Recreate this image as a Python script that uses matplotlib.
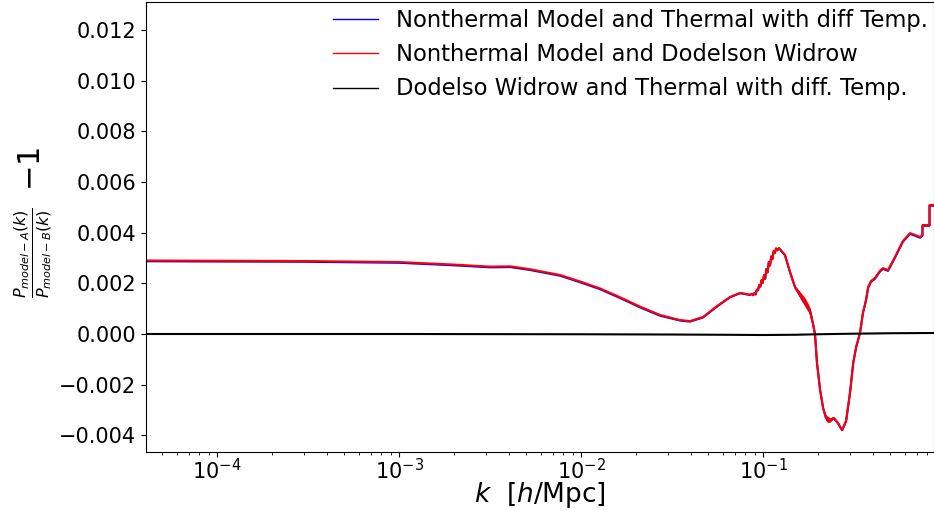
import numpy as np
import matplotlib
matplotlib.use("Agg")
import matplotlib.pyplot as plt

# Wavenumbers [h/Mpc] and relative differences P_A/P_B - 1 (smooth part)
k_smooth = [4.07e-5, 1e-4, 3e-4, 1e-3, 2e-3, 3.16e-3, 4.1e-3, 5.2e-3, 7.67e-3,
            0.01, 0.0127, 0.0164, 0.0211, 0.0272, 0.035, 0.0397, 0.0468,
            0.0558, 0.0659, 0.0748, 0.0849,
            0.1224, 0.132, 0.1407, 0.150, 0.1597, 0.170, 0.181, 0.188, 0.193,
            0.198, 0.206, 0.214, 0.222, 0.233, 0.245, 0.258, 0.272, 0.286,
            0.301, 0.313, 0.325, 0.341, 0.354, 0.368, 0.378, 0.392, 0.412,
            0.439, 0.456, 0.486, 0.531, 0.587, 0.642, 0.684, 0.729, 0.752,
            0.752, 0.822, 0.822, 0.870]

nt_dw_smooth = [0.00290, 0.00289, 0.00288, 0.00284, 0.00274, 0.00266, 0.00267,
                0.00256, 0.00233, 0.00206, 0.00180, 0.00145, 0.00108, 0.00075,
                0.00055, 0.00051, 0.00067, 0.00110, 0.00146, 0.00162, 0.00155,
                0.00339, 0.00312, 0.00245, 0.00185, 0.00154, 0.00126, 0.00091,
                0.00043, 0.00000, -0.00114, -0.00221, -0.00292, -0.00331,
                -0.00339, -0.00331, -0.00351, -0.00379, -0.00343, -0.00229,
                -0.00114, -0.00051, 0.00004, 0.00083, 0.00134, 0.00185,
                0.00209, 0.00221, 0.00249, 0.00260, 0.00252, 0.00304, 0.00367,
                0.00398, 0.00391, 0.00383, 0.00391, 0.00430, 0.00430, 0.00509,
                0.00509]

nt_th_smooth = [0.00287, 0.00286, 0.00285, 0.00281, 0.00271, 0.00263, 0.00264,
                0.00253, 0.00230, 0.00203, 0.00177, 0.00142, 0.00105, 0.00072,
                0.00053, 0.00049, 0.00065, 0.00108, 0.00145, 0.00161, 0.00154,
                0.00338, 0.00311, 0.00244, 0.00184, 0.00153, 0.00125, 0.00090,
                0.00042, -0.00001, -0.00115, -0.00222, -0.00293, -0.00332,
                -0.00340, -0.00332, -0.00352, -0.00380, -0.00344, -0.00230,
                -0.00115, -0.00052, 0.00003, 0.00082, 0.00132, 0.00182,
                0.00206, 0.00218, 0.00246, 0.00257, 0.00249, 0.00301, 0.00364,
                0.00395, 0.00388, 0.00380, 0.00388, 0.00427, 0.00427, 0.00506,
                0.00506]

# Oscillatory stretch before the first peak
k_wiggle = [0.0870, 0.0884, 0.0897, 0.0911, 0.0924, 0.0939, 0.0953, 0.0968,
            0.0982, 0.0997, 0.1013, 0.1028, 0.1044, 0.1060, 0.1076, 0.1093,
            0.1110, 0.1126, 0.1144, 0.1161, 0.1179, 0.1197]
nt_dw_wiggle = [0.00159, 0.00154, 0.00162, 0.00157, 0.00175, 0.00173, 0.00194,
                0.00188, 0.00213, 0.00203, 0.00233, 0.00219, 0.00257, 0.00244,
                0.00284, 0.00271, 0.00307, 0.00296, 0.00328, 0.00320, 0.00338,
                0.00331]
nt_th_wiggle = [0.00158, 0.00153, 0.00161, 0.00156, 0.00174, 0.00172, 0.00193,
                0.00187, 0.00212, 0.00202, 0.00232, 0.00218, 0.00256, 0.00243,
                0.00283, 0.00270, 0.00306, 0.00295, 0.00327, 0.00319, 0.00337,
                0.00330]

# Envelopes of the rapidly oscillating bands
k_band1 = [0.150, 0.156, 0.163, 0.170, 0.176, 0.181, 0.185]
band1_hi = [0.00187, 0.00173, 0.00156, 0.00139, 0.00119, 0.00099, 0.00066]
band1_lo = [0.00183, 0.00159, 0.00134, 0.00113, 0.00095, 0.00083, 0.00062]
k_band2 = [0.218, 0.222, 0.227, 0.233, 0.240]
band2_hi = [-0.00313, -0.00323, -0.00327, -0.00332, -0.00332]
band2_lo = [-0.00317, -0.00339, -0.00347, -0.00346, -0.00336]

# Dodelson-Widrow vs thermal
k_dw_th = [4.07e-5, 1e-3, 0.01, 0.03, 0.06, 0.1, 0.15, 0.2, 0.3, 0.5, 0.87]
dw_th = [0.0, 0.0, -0.00001, -0.00002, -0.00003, -0.00004, -0.00003,
         -0.00001, 0.00001, 0.00003, 0.00004]

labels = ["Nonthermal Model and Thermal with diff Temp.",
          "Nonthermal Model and Dodelson Widrow",
          "Dodelso Widrow and Thermal with diff. Temp."]
y_ticks = [-0.004, -0.002, 0.000, 0.002, 0.004, 0.006, 0.008, 0.010, 0.012]


def merged(k_a, v_a, k_b, v_b):
    """Join two (k, value) pieces into one curve sorted by k."""
    k = np.concatenate([k_a, k_b])
    v = np.concatenate([v_a, v_b])
    order = np.argsort(k, kind="stable")
    return k[order], v[order]


k_blue, v_blue = merged(k_smooth, nt_th_smooth, k_wiggle, nt_th_wiggle)
k_red, v_red = merged(k_smooth, nt_dw_smooth, k_wiggle, nt_dw_wiggle)

fig = plt.figure(figsize=(9.34, 5.11), dpi=100)
ax = fig.add_axes([0.1563, 0.1155, 0.8437, 0.8806])

lw = 1.5
ax.plot(k_blue, v_blue, color="blue", lw=lw, label=labels[0])
ax.plot(k_red, v_red, color="red", lw=lw, label=labels[1])
ax.fill_between(k_band1, band1_lo, band1_hi, color="red", lw=0.8)
ax.fill_between(k_band2, band2_lo, band2_hi, color="red", lw=0.8)
ax.plot(k_dw_th, dw_th, color="black", lw=lw, label=labels[2])

ax.set_xscale("log")
ax.set_xlim(4.07e-5, 0.870)
ax.set_ylim(-0.004655, 0.0131)
ax.set_yticks(y_ticks)
ax.set_yticklabels([f"{v:.3f}".replace("-", "\u2212") for v in y_ticks])
ax.tick_params(labelsize=15)
ax.tick_params(axis="x", which="major", pad=0.5)

ax.set_xlabel(r"$k$  [$h$/Mpc]", fontsize=19)
ax.xaxis.set_label_coords(0.5, -0.063)

# ratio part of the y label, with the "-1" drawn at full size next to it
ax.set_ylabel(r"$\frac{P_{model-A}(k)}{P_{model-B}(k)}$", fontsize=16.5)
ax.yaxis.set_label_coords(-0.117, 0.443)
fig.text(31 / 934, 1 - 191 / 511, r"$-1$", rotation=90, fontsize=22,
         ha="center", va="bottom")

for line in ax.legend(loc="upper right", frameon=False, fontsize=16.3,
                      borderaxespad=0, bbox_to_anchor=(1.004, 1.005),
                      handlelength=2.0).get_lines():
    line.set_linewidth(1.0)

fig.savefig("out.png", dpi=100)
